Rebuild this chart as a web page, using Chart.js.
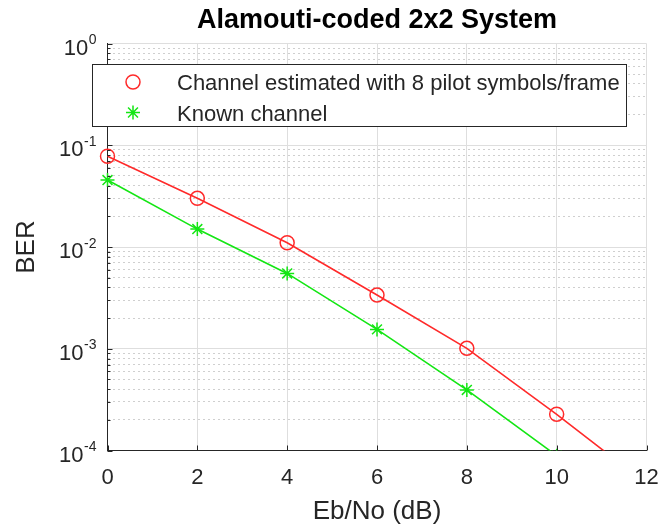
<!DOCTYPE html>
<html>
<head>
<meta charset="utf-8">
<script src="https://cdn.jsdelivr.net/npm/chart.js@4"></script>
<style>
  body { margin: 0; background: #fff; }
</style>
</head>
<body>
<canvas id="chart" width="662" height="527"></canvas>
<script>
// values
const ebno = [0, 2, 4, 6, 8, 10, 12];
const berEstimated = [0.078, 0.0301, 0.0110, 0.00337, 0.00101, 0.000227, 0.000047];
const berKnown = [0.0455, 0.0150, 0.0055, 0.00155, 0.000394, 0.000089];
const seriesLabels = ['Channel estimated with 8 pilot symbols/frame', 'Known channel'];
const xTickValues = [0, 2, 4, 6, 8, 10, 12];
const yDecades = [1e-4, 1e-3, 1e-2, 1e-1, 1];
const yExponents = ['-4', '-3', '-2', '-1', '0'];

const FONT = '"Liberation Sans", Arial, Helvetica, sans-serif';
const TEXT = '#262626';

// minor log ticks 2..9 in every decade
const yTickValues = [];
yDecades.forEach((d, i) => {
  yTickValues.push({ value: d, major: true });
  if (i < yDecades.length - 1) {
    for (let m = 2; m <= 9; m++) yTickValues.push({ value: m * d, major: false });
  }
});

function toPoints(xs, ys) {
  return ys.map((y, i) => ({ x: xs[i], y: y }));
}

function drawMarker(ctx, style, x, y, r, color, width) {
  ctx.save();
  ctx.strokeStyle = color;
  ctx.lineWidth = width;
  ctx.beginPath();
  if (style === 'circle') {
    ctx.arc(x, y, r, 0, Math.PI * 2);
  } else {
    const d = r * Math.SQRT1_2;
    ctx.moveTo(x - r, y); ctx.lineTo(x + r, y);
    ctx.moveTo(x, y - r); ctx.lineTo(x, y + r);
    ctx.moveTo(x - d, y - d); ctx.lineTo(x + d, y + d);
    ctx.moveTo(x - d, y + d); ctx.lineTo(x + d, y - d);
  }
  ctx.stroke();
  ctx.restore();
}

// tick marks inside, y labels with exponents, legend box
const matlabBits = {
  id: 'matlabBits',
  afterDraw(chart) {
    const ctx = chart.ctx;
    const xs = chart.scales.x;
    const ys = chart.scales.y;
    const area = chart.chartArea;

    ctx.save();
    ctx.strokeStyle = TEXT;
    ctx.lineWidth = 1;
    ctx.beginPath();
    xTickValues.forEach(v => {
      const px = Math.round(xs.getPixelForValue(v)) + 0.5;
      ctx.moveTo(px, area.bottom); ctx.lineTo(px, area.bottom - 5);
    });
    yTickValues.forEach(t => {
      const py = Math.round(ys.getPixelForValue(t.value)) + 0.5;
      ctx.moveTo(area.left, py); ctx.lineTo(area.left + (t.major ? 5 : 3), py);
    });
    ctx.stroke();

    // y tick labels 10^n
    ctx.fillStyle = TEXT;
    ctx.textBaseline = 'alphabetic';
    ctx.textAlign = 'right';
    yDecades.forEach((v, i) => {
      const py = ys.getPixelForValue(v);
      ctx.font = '14px ' + FONT;
      const right = area.left - 11;
      ctx.fillText(yExponents[i], right, py + 0.5);
      const w = ctx.measureText(yExponents[i]).width;
      ctx.font = '22px ' + FONT;
      ctx.fillText('10', right - w - 0.5, py + 11);
    });

    // legend
    const box = { left: 92.5, top: 64.5, right: 626.5, bottom: 126.5 };
    ctx.fillStyle = '#ffffff';
    ctx.fillRect(box.left, box.top, box.right - box.left, box.bottom - box.top);
    ctx.strokeStyle = TEXT;
    ctx.lineWidth = 1;
    ctx.strokeRect(box.left, box.top, box.right - box.left, box.bottom - box.top);
    const rows = [82, 112.5];
    chart.data.datasets.forEach((ds, i) => {
      drawMarker(ctx, ds.pointStyle, 133, rows[i], ds.pointRadius, ds.borderColor, ds.pointBorderWidth);
      ctx.fillStyle = TEXT;
      ctx.textAlign = 'left';
      ctx.font = '22px ' + FONT;
      ctx.fillText(ds.label, 177, rows[i] + 8);
    });
    ctx.restore();
  }
};

new Chart(document.getElementById('chart'), {
  type: 'line',
  data: {
    datasets: [
      {
        label: seriesLabels[0],
        data: toPoints(ebno, berEstimated),
        borderColor: '#ff2a2a',
        borderWidth: 1.6,
        pointStyle: 'circle',
        pointRadius: 7,
        pointBorderWidth: 1.5,
        pointBackgroundColor: 'rgba(0,0,0,0)',
        pointBorderColor: '#ff2a2a',
        tension: 0,
        clip: { left: 12, top: 12, right: 0, bottom: 0 }
      },
      {
        label: seriesLabels[1],
        data: toPoints(ebno, berKnown),
        borderColor: '#14e614',
        borderWidth: 1.6,
        pointStyle: 'star',
        pointRadius: 7,
        pointBorderWidth: 1.5,
        pointBackgroundColor: 'rgba(0,0,0,0)',
        pointBorderColor: '#14e614',
        tension: 0,
        clip: { left: 12, top: 12, right: 0, bottom: 0 }
      }
    ]
  },
  options: {
    responsive: false,
    animation: false,
    layout: { padding: { left: 0, right: 15.5, top: 0, bottom: 0 } },
    plugins: {
      legend: { display: false },
      tooltip: { enabled: false },
      title: {
        display: true,
        fullSize: false,
        text: 'Alamouti-coded 2x2 System',
        color: '#000000',
        font: { family: FONT, size: 27, weight: 'bold' },
        padding: { top: 4, bottom: 7.1 }
      }
    },
    scales: {
      x: {
        type: 'linear',
        min: 0,
        max: 12,
        ticks: {
          stepSize: 2,
          padding: 13.8,
          color: TEXT,
          font: { family: FONT, size: 22 }
        },
        grid: { color: '#dedede', lineWidth: 1, drawTicks: false },
        border: { color: TEXT, width: 1 },
        title: {
          display: true,
          text: 'Eb/No (dB)',
          color: TEXT,
          font: { family: FONT, size: 26 },
          padding: { top: 0, bottom: 0 }
        },
        afterFit: scale => {
          scale.height = 76.5;
          scale.paddingLeft = 0;
          scale.paddingRight = 0;
        }
      },
      y: {
        type: 'logarithmic',
        min: 1e-4,
        max: 1,
        afterBuildTicks: scale => { scale.ticks = yTickValues.map(t => ({ value: t.value, major: t.major })); },
        ticks: { display: false },
        grid: {
          color: ctx => (ctx.tick && !ctx.tick.major) ? '#cfcfcf' : '#dedede',
          lineWidth: 1,
          drawTicks: false
        },
        border: {
          color: TEXT,
          width: 1,
          dash: ctx => (ctx.tick && !ctx.tick.major) ? [2, 3] : []
        },
        title: {
          display: true,
          text: 'BER',
          color: TEXT,
          font: { family: FONT, size: 26 },
          padding: { top: 11, bottom: 0 }
        },
        afterFit: scale => {
          scale.width = 107.5;
          scale.paddingTop = 0;
          scale.paddingBottom = 0;
        }
      }
    }
  },
  plugins: [matlabBits]
});
</script>
</body>
</html>
